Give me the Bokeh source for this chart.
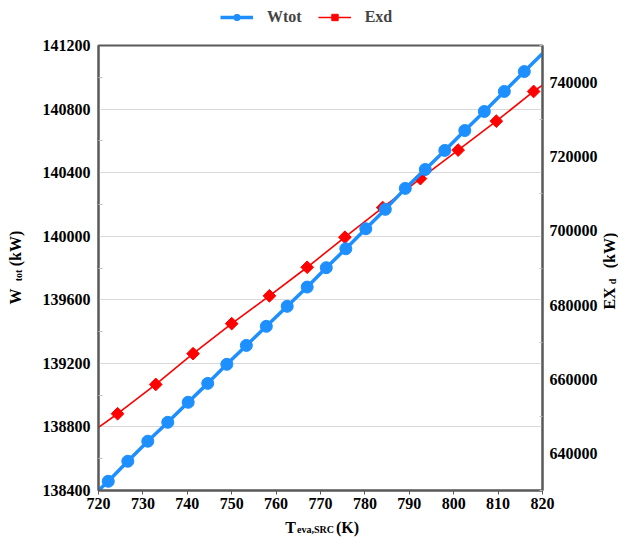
from math import pi
from bokeh.plotting import figure
from bokeh.layouts import column, row
from bokeh.models import (Range1d, LinearAxis, FixedTicker, Label, Legend,
                          LegendItem, BasicTickFormatter)
from bokeh.embed import file_html
from bokeh.resources import INLINE

# ---------------- data ----------------
t_wtot = [722.2, 726.6, 731.1, 735.6, 740.2, 744.6, 748.9, 753.3, 757.8, 762.5,
          767.0, 771.3, 775.7, 780.2, 784.6, 789.1, 793.6, 798.0, 802.5, 806.9,
          811.4, 815.9]
wtot = [138458, 138584, 138710, 138829, 138955, 139074, 139194, 139313, 139433,
        139559, 139680, 139802, 139921, 140047, 140169, 140301, 140420, 140540,
        140665, 140785, 140911, 141036]
t_exd = [724.3, 732.9, 741.3, 750.0, 758.5, 767.0, 775.5, 784.0, 792.5, 801.0,
         809.6, 818.0]
exd = [650700, 658600, 666900, 675000, 682500, 690200, 698300, 706300, 714100,
       721800, 729600, 737600]
# line end points at the plot edges
t_ends = [720, 820]
wtot_ends = [138400, 141150]
exd_ends = [647000, 739300]

x_ticks = [720, 730, 740, 750, 760, 770, 780, 790, 800, 810, 820]
left_ticks = [138400, 138800, 139200, 139600, 140000, 140400, 140800, 141200]
left_minor = [138600, 139000, 139400, 139800, 140200, 140600, 141000]
right_ticks = [640000, 660000, 680000, 700000, 720000, 740000]
right_minor = [630000, 650000, 670000, 690000, 710000, 730000, 750000]
x_range = (720, 820)
left_range = (138400, 141200)
right_range = (630000, 750000)

BLUE = "#1E8FFF"
RED = "#FF0000"
AX = "#595959"
FONT = "Liberation Serif"

W_TOTAL, H_TOP, H_BOTTOM, W_LEFT, W_RIGHT = 618, 35, 23, 26, 18
H_MAIN = 538 - H_TOP - H_BOTTOM


def aux(width, height):
    f = figure(width=width, height=height, output_backend="svg",
               toolbar_location=None, x_axis_type=None, y_axis_type=None,
               x_range=Range1d(0, 1), y_range=Range1d(0, 1), min_border=0)
    f.outline_line_color = None
    f.background_fill_color = "white"
    f.border_fill_color = "white"
    return f


# ---------------- main plot ----------------
p = figure(width=W_TOTAL - W_LEFT - W_RIGHT, height=H_MAIN, output_backend="svg",
           toolbar_location=None,
           x_range=Range1d(*x_range), y_range=Range1d(*left_range),
           min_border_left=72, min_border_right=55, min_border_top=10,
           min_border_bottom=25)
p.background_fill_color = "white"
p.border_fill_color = "white"
p.outline_line_color = AX
p.outline_line_width = 2

p.extra_y_ranges = {"exd": Range1d(*right_range)}

xa = p.xaxis[0]
xa.ticker = FixedTicker(ticks=x_ticks)
ya = p.yaxis[0]
ya.ticker = FixedTicker(ticks=left_ticks, minor_ticks=left_minor)
ya.formatter = BasicTickFormatter(use_scientific=False)
ra = LinearAxis(y_range_name="exd",
                ticker=FixedTicker(ticks=right_ticks, minor_ticks=right_minor),
                formatter=BasicTickFormatter(use_scientific=False))
p.add_layout(ra, "right")

for ax in (xa, ya, ra):
    ax.axis_line_color = AX
    ax.axis_line_width = 2
    ax.major_tick_line_color = AX
    ax.minor_tick_line_color = "#bfbfbf"
    ax.major_label_text_font = FONT
    ax.major_label_text_font_style = "bold"
    ax.major_label_text_font_size = "16px"
    ax.major_label_text_color = "black"
    ax.axis_label = None

xa.major_tick_in = 0
xa.major_tick_out = 4
xa.minor_tick_in = 0
xa.minor_tick_out = 0
xa.major_label_standoff = 3
ya.major_tick_in = 0
ya.major_tick_out = 0
ya.minor_tick_in = 4
ya.minor_tick_out = 0
ya.major_label_standoff = 8
ra.major_tick_in = 0
ra.major_tick_out = 0
ra.minor_tick_in = 3
ra.minor_tick_out = 0
ra.major_label_standoff = 7

p.xgrid.visible = False
p.ygrid.grid_line_color = "#d9d9d9"
p.ygrid.grid_line_width = 1
p.ygrid.ticker = FixedTicker(ticks=left_ticks)

wl_x = [t_ends[0]] + t_wtot + [t_ends[1]]
wl_y = [wtot_ends[0]] + wtot + [wtot_ends[1]]
el_x = [t_ends[0]] + t_exd + [t_ends[1]]
el_y = [exd_ends[0]] + exd + [exd_ends[1]]

p.line(el_x, el_y, y_range_name="exd", line_color=RED, line_width=1.6)
p.scatter(t_exd, exd, y_range_name="exd", marker="square", angle=pi / 4,
          size=9, fill_color=RED, line_color=RED)
p.line(wl_x, wl_y, line_color=BLUE, line_width=3.5)
p.scatter(t_wtot, wtot, marker="circle", size=12, fill_color=BLUE,
          line_color=BLUE)

# ---------------- legend strip (top) ----------------
# proxy renderers: same series, far outside this strip's 0..1 ranges (not visible)
top = aux(W_TOTAL, H_TOP)
lw_l = top.line(t_wtot, wtot, line_color=BLUE, line_width=3.5)
lw_m = top.scatter(t_wtot, wtot, marker="circle", size=13, fill_color=BLUE,
                   line_color=BLUE)
le_l = top.line(t_exd, exd, line_color=RED, line_width=1.6)
le_m = top.scatter(t_exd, exd, marker="square", size=10, fill_color=RED,
                   line_color=RED)
legend = Legend(items=[LegendItem(label="Wtot", renderers=[lw_l, lw_m]),
                       LegendItem(label="Exd", renderers=[le_l, le_m])],
                orientation="horizontal", location=(220, 9),
                border_line_color=None, background_fill_alpha=0,
                label_text_font=FONT, label_text_font_style="bold",
                label_text_font_size="16px", glyph_width=33, glyph_height=16,
                label_height=16, label_standoff=14, spacing=16, padding=0,
                margin=0)
top.add_layout(legend)


def lab(f, text, x, y, size, angle=0.0, align="center", baseline="middle"):
    f.add_layout(Label(text=text, x=x, y=y, x_units="screen", y_units="screen",
                       angle=angle, text_align=align, text_baseline=baseline,
                       text_font=FONT, text_font_style="bold",
                       text_font_size=size, text_color="black"))


# ---------------- left title strip: W_tot (kW) ----------------
left = aux(W_LEFT, H_MAIN)
lab(left, "W", 15, 194, "16px", pi / 2)
lab(left, "tot", 18, 215, "10px", pi / 2)
lab(left, "(kW)", 15, 242, "16px", pi / 2)

# ---------------- right title strip: EX_d (kW) ----------------
right = aux(W_RIGHT, H_MAIN)
lab(right, "EX", 9, 192, "16px", pi / 2)
lab(right, "d", 12, 209, "10px", pi / 2)
lab(right, "(kW)", 9, 240, "16px", pi / 2)

# ---------------- bottom title strip: T_eva,SRC (K) ----------------
bottom = aux(W_TOTAL, H_BOTTOM)
lab(bottom, "T", 290, 11, "16px", 0.0, "center", "alphabetic")
lab(bottom, "eva,SRC", 315, 9, "10px", 0.0, "center", "alphabetic")
lab(bottom, "(K)", 347, 11, "16px", 0.0, "center", "alphabetic")

layout = column(top, row(left, p, right), bottom)

open("out.html", "w").write(file_html(layout, INLINE))
